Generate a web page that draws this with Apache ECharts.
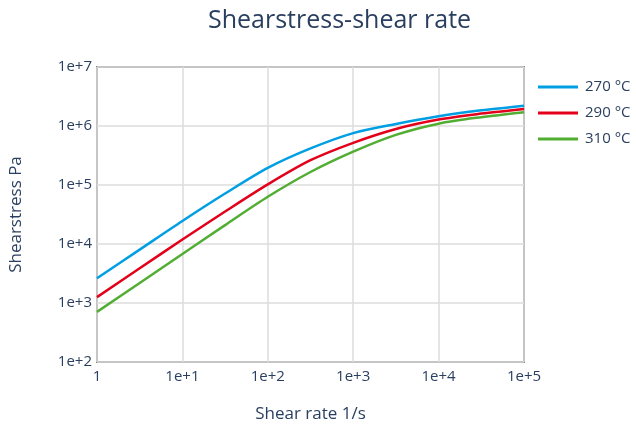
<!DOCTYPE html>
<html>
<head>
<meta charset="utf-8">
<script src="https://cdn.jsdelivr.net/npm/echarts@6/dist/echarts.min.js"></script>
<style>html,body{margin:0;padding:0;background:#fff}#c{width:636px;height:428px}</style>
</head>
<body>
<div id="c"></div>
<script>
var shearRate = [1, 3.162, 10, 31.62, 100, 316.2, 1000, 3162, 10000, 31623, 100000];
var stress270 = [2630, 8035, 24550, 71610, 195000, 416900, 758600, 1084000, 1462000, 1841000, 2213000];
var stress290 = [1259, 3890, 11890, 35480, 102300, 263000, 518800, 891300, 1288000, 1622000, 1950000];
var stress310 = [708, 2188, 6761, 20890, 63100, 166000, 367300, 707900, 1096000, 1413000, 1718000];
var seriesNames = ['270 °C', '290 °C', '310 °C'];
var seriesColors = ['#009fe3', '#e3001b', '#52ae32'];

function zip(xs, ys) { return xs.map(function (x, i) { return [x, ys[i]]; }); }
function expLabel(v) {
  var e = Math.round(Math.log10(v));
  return e === 0 ? '1' : '1e+' + e;
}
var font = '"Open Sans", "Noto Sans", sans-serif';
var txt = '#2a3f5f';

var chart = echarts.init(document.getElementById('c'), null, {renderer: 'canvas'});
chart.setOption({
  animation: false,
  backgroundColor: '#fff',
  title: {
    text: 'Shearstress-shear rate',
    left: 203, top: 3,
    textStyle: {fontFamily: font, fontSize: 25, fontWeight: 'normal', color: txt}
  },
  legend: {
    orient: 'vertical', left: 533, top: 73,
    icon: 'rect', itemWidth: 40, itemHeight: 3, itemGap: 8,
    textStyle: {fontFamily: font, fontSize: 15, color: txt, lineHeight: 18, padding: [0, 0, 0, 2]},
    data: seriesNames
  },
  grid: {
    left: 96, right: 112, top: 67, bottom: 64,
    show: true, borderColor: '#7f7f7f', borderWidth: 2, backgroundColor: 'transparent'
  },
  xAxis: {
    type: 'log', logBase: 10, min: 1, max: 100000,
    name: 'Shear rate 1/s', nameLocation: 'middle', nameGap: 44,
    nameTextStyle: {fontFamily: font, fontSize: 17, color: txt},
    axisLine: {show: false}, axisTick: {show: false},
    axisLabel: {fontFamily: font, fontSize: 15, color: txt, margin: 7, formatter: expLabel},
    splitLine: {show: true, lineStyle: {color: '#dcdcdc', width: 1.5}}
  },
  yAxis: {
    type: 'log', logBase: 10, min: 100, max: 10000000,
    name: 'Shearstress Pa', nameLocation: 'middle', nameGap: 72,
    nameTextStyle: {fontFamily: font, fontSize: 17, color: txt},
    axisLine: {show: false}, axisTick: {show: false},
    axisLabel: {fontFamily: font, fontSize: 15, color: txt, margin: 5, formatter: expLabel},
    splitLine: {show: true, lineStyle: {color: '#dcdcdc', width: 1.5}}
  },
  series: [stress270, stress290, stress310].map(function (ys, i) {
    return {
      name: seriesNames[i], type: 'line', data: zip(shearRate, ys),
      smooth: 0.3, symbol: 'none', color: seriesColors[i],
      lineStyle: {width: 2.5, color: seriesColors[i]}
    };
  })
});
</script>
</body>
</html>
